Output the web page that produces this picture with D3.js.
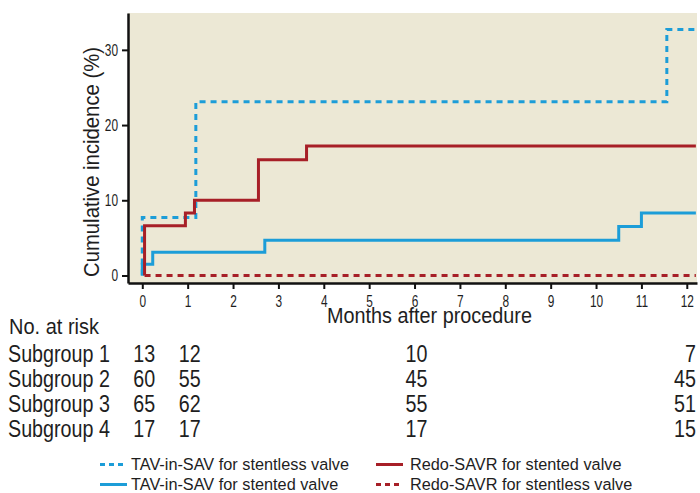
<!DOCTYPE html>
<html>
<head>
<meta charset="utf-8">
<script src="https://cdn.jsdelivr.net/npm/d3@7"></script>
<style>
  html, body { margin: 0; padding: 0; background: #ffffff; }
  svg { display: block; }
  text { font-family: "Liberation Sans", Arial, sans-serif; fill: #1e1e1e; }
</style>
</head>
<body>
<svg id="chart" width="700" height="493"></svg>
<script>
// ---- Data ----
const xTicks = [0, 1, 2, 3, 4, 5, 6, 7, 8, 9, 10, 11, 12];
const yTicks = [0, 10, 20, 30];

const tavStentlessTimes  = [0, 0, 1.18, 11.56, 12.2];
const tavStentlessValues = [0, 7.7, 23.1, 32.7, 32.7];

const tavStentedTimes  = [0, 0, 0.23, 2.7, 10.5, 11.0, 12.2];
const tavStentedValues = [0, 1.5, 3.1, 4.7, 6.5, 8.3, 8.3];

const redoStentedTimes  = [0.05, 0.05, 0.95, 1.15, 2.56, 3.62, 12.2];
const redoStentedValues = [0, 6.6, 8.3, 10.0, 15.4, 17.2, 17.2];

const redoStentlessTimes  = [0.05, 12.2];
const redoStentlessValues = [0, 0];

const riskTimes = [0, 1, 6, 12];
const riskGroups = ["Subgroup 1", "Subgroup 2", "Subgroup 3", "Subgroup 4"];
const riskSub1 = [13, 12, 10, 7];
const riskSub2 = [60, 55, 45, 45];
const riskSub3 = [65, 62, 55, 51];
const riskSub4 = [17, 17, 17, 15];

const seriesNames = [
  "TAV-in-SAV for stentless valve",
  "TAV-in-SAV for stented valve",
  "Redo-SAVR for stented valve",
  "Redo-SAVR for stentless valve"
];

// ---- Styles ----
const BLUE = "#1c9dd8";
const RED = "#a71f27";
const BG = "#ece8d5";

const series = [
  { name: seriesNames[0], t: tavStentlessTimes, v: tavStentlessValues, color: BLUE, dash: "6,5" },
  { name: seriesNames[1], t: tavStentedTimes, v: tavStentedValues, color: BLUE, dash: null },
  { name: seriesNames[2], t: redoStentedTimes, v: redoStentedValues, color: RED, dash: null },
  { name: seriesNames[3], t: redoStentlessTimes, v: redoStentlessValues, color: RED, dash: "6,5" }
];

const svg = d3.select("#chart");
const plot = { left: 128, right: 697, top: 13, bottom: 283 };

const x = d3.scaleLinear().domain([-0.315, 12.225]).range([plot.left, plot.right]);
const y = d3.scaleLinear().domain([-1.0, 34.9]).range([plot.bottom, plot.top]);

// condensed text helper: horizontal scale applied around the anchor point
function ctext(px, py, str, size, scale, anchor, rot) {
  const t = svg.append("text")
    .attr("transform", `translate(${px},${py})` + (rot ? ` rotate(${rot})` : "") + ` scale(${scale},1)`)
    .attr("text-anchor", anchor || "start")
    .style("font-size", size + "px")
    .text(str);
  return t;
}
function fitScale(str, size, target) {
  const t = svg.append("text").style("font-size", size + "px").text(str);
  const len = t.node().getComputedTextLength();
  t.remove();
  return target / len;
}

// background
svg.append("rect")
  .attr("x", plot.left).attr("y", plot.top)
  .attr("width", plot.right - plot.left).attr("height", plot.bottom - plot.top)
  .attr("fill", BG);

// lines
const line = d3.line().x(d => x(d[0])).y(d => y(d[1])).curve(d3.curveStepAfter);
series.forEach(s => {
  const pts = s.t.map((t, i) => [t, s.v[i]]);
  svg.append("path")
    .datum(pts)
    .attr("d", line)
    .attr("fill", "none")
    .attr("stroke", s.color)
    .attr("stroke-width", 3)
    .attr("stroke-dasharray", s.dash)
    .attr("stroke-linejoin", "miter");
});

// axes
const tickScale = 0.72;
const xAxis = d3.axisBottom(x).tickValues(xTicks).tickSize(6).tickPadding(6).tickSizeOuter(0);
const yAxis = d3.axisLeft(y).tickValues(yTicks).tickSize(6).tickPadding(4).tickSizeOuter(0);

const gx = svg.append("g").attr("transform", `translate(0,${plot.bottom})`).call(xAxis);
const gy = svg.append("g").attr("transform", `translate(${plot.left},0)`).call(yAxis);

[gx, gy].forEach(g => {
  g.select(".domain").attr("stroke", "#111").attr("stroke-width", 2.5);
  g.selectAll(".tick line").attr("stroke", "#111").attr("stroke-width", 2);
  g.selectAll(".tick text")
    .style("font-family", '"Liberation Sans", Arial, sans-serif')
    .style("font-size", "16.5px").attr("fill", "#1e1e1e");
});
gx.selectAll(".tick text").attr("transform", `scale(${tickScale},1)`);
gy.selectAll(".tick text").attr("x", -10 / tickScale).attr("transform", `scale(${tickScale},1)`);

// axis titles
ctext(327, 323, "Months after procedure", 22, fitScale("Months after procedure", 22, 205), "start");
ctext(99, 162, "Cumulative incidence (%)", 22, fitScale("Cumulative incidence (%)", 22, 230), "middle", -90);

// number at risk
ctext(9, 334, "No. at risk", 22, fitScale("No. at risk", 22, 90), "start");

const rowScale = fitScale("Subgroup 1", 24, 102);
const riskRows = [riskSub1, riskSub2, riskSub3, riskSub4];
const rowBase = [361.5, 386.5, 411.5, 436.5];
riskRows.forEach((row, r) => {
  ctext(8, rowBase[r], riskGroups[r], 24, rowScale, "start");
  row.forEach((n, i) => {
    const last = i === row.length - 1;
    ctext(last ? plot.right - 1 : x(riskTimes[i]) + 2, rowBase[r], String(n), 24, rowScale, last ? "end" : "middle");
  });
});

// legend
const legendItems = [
  { s: series[0], lx: 100, ty: 470 },
  { s: series[1], lx: 100, ty: 490 },
  { s: series[2], lx: 376, ty: 470 },
  { s: series[3], lx: 376, ty: 490 }
];
legendItems.forEach(it => {
  svg.append("line")
    .attr("x1", it.lx).attr("x2", it.lx + 27)
    .attr("y1", it.ty - 5.5).attr("y2", it.ty - 5.5)
    .attr("stroke", it.s.color).attr("stroke-width", 3)
    .attr("stroke-dasharray", it.s.dash ? "5,4" : null);
  svg.append("text")
    .attr("x", it.lx + (it.s.color === RED ? 34 : 31)).attr("y", it.ty)
    .style("font-size", "16.3px")
    .text(it.s.name);
});
</script>
</body>
</html>
